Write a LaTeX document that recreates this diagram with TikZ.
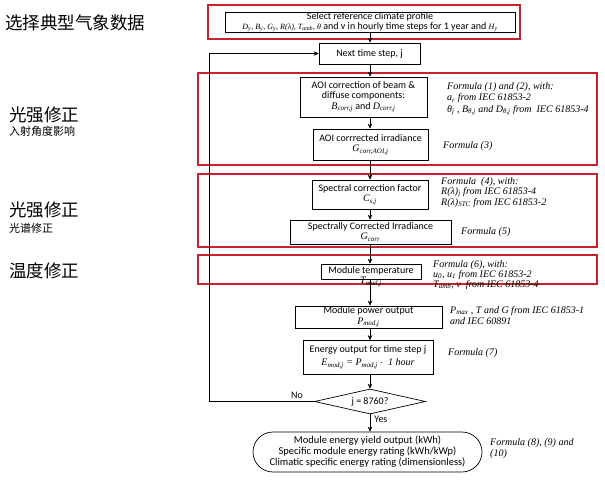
\documentclass[tikz,border=0pt]{standalone}
\usepackage{fontspec}
\setsansfont{Carlito}
\newfontfamily\tms{Liberation Serif}
\newfontfamily\cjk{Noto Sans CJK SC}
\usetikzlibrary{shapes.geometric,arrows.meta,calc}
\newcommand{\ti}[1]{{\tms\itshape #1}}
\newcommand{\tis}[1]{{\fontsize{8}{9}\selectfont\tms\itshape #1}}
\newcommand{\sbs}[1]{\textsubscript{#1}}
\definecolor{redc}{RGB}{200,32,44}
\begin{document}
\begin{tikzpicture}[x=1pt,y=-1pt,
  box/.style={draw, line width=0.7pt, fill=white, align=center, inner sep=0pt,
    font=\fontsize{10}{10.5}\selectfont\sffamily},
  redbox/.style={draw=redc, line width=1.7pt},
  arr/.style={-{Stealth[length=5pt,width=4.5pt]}, line width=0.7pt},
  note/.style={anchor=north west, align=left, inner sep=0pt,
    font=\fontsize{10}{11.5}\selectfont\tms\itshape},
  lbl/.style={inner sep=1pt, font=\fontsize{10}{10}\selectfont\sffamily},
  cn/.style={anchor=west, inner sep=0pt, font=\fontsize{17.5}{17.5}\selectfont\cjk},
  cns/.style={anchor=west, inner sep=0pt, font=\fontsize{11}{11}\selectfont\cjk}]
\useasboundingbox (0,0) rectangle (605,481);

% red frames
\draw[redbox] (208,5) rectangle (520,39);
\draw[redbox] (198,73) rectangle (597,165);
\draw[redbox] (198,174) rectangle (597,247);
\draw[redbox] (198,255) rectangle (597,284);

% spine coordinates
\coordinate (sp) at (370,0);
\coordinate (lp) at (209,0);

% boxes
\node[box, minimum width=290pt, minimum height=20pt, font=\fontsize{10}{10}\selectfont\sffamily] (sel) at (370,22)
  {Select reference climate profile\\
   \tis{D\sbs{y}, B\sbs{y}, G\sbs{y}, R(λ), T\sbs{amb}, θ} and v in hourly time steps for 1 year and \tis{H\sbs{y}}};
\node[box, minimum width=101pt, minimum height=21pt] (next) at (369.5,53.5) {Next time step, j};
\node[box, minimum width=127pt, minimum height=40pt] (aoi) at (363.5,97)
  {AOI correction of beam \&\\ diffuse components:\\ \ti{B\sbs{corr,j}} and \ti{D\sbs{corr,j}}};
\node[box, minimum width=115pt, minimum height=31pt] (aoic) at (370.5,144.5)
  {AOI corrrected irradiance\\ \ti{G\sbs{corr,AOI,j}}};
\node[box, minimum width=116pt, minimum height=29pt] (spc) at (370,194.5)
  {Spectral correction factor\\ \ti{C\sbs{s,j}}};
\node[box, minimum width=161pt, minimum height=24pt] (spi) at (370.5,232)
  {Spectrally Corrected Irradiance\\ \ti{G\sbs{corr}}};
\node[box, minimum width=100pt, minimum height=15pt] (tmp) at (371,271.5) {};
\node[align=center, inner sep=0pt, font=\fontsize{10}{10.5}\selectfont\sffamily] (tmpt) at (371,276.5)
  {Module temperature\\ \ti{T\sbs{mod,j}}};
\node[box, minimum width=147pt, minimum height=22pt] (pow) at (368.5,317)
  {Module power output\\ \ti{P\sbs{mod,j}}};
\node[box, minimum width=130pt, minimum height=34pt, font=\fontsize{10}{13}\selectfont\sffamily] (ene) at (368,357.5)
  {Energy output for time step j\\ \ti{E\sbs{mod,j} = P\sbs{mod,j} $\cdot$\ \ 1 hour}};
\node[draw, diamond, line width=0.7pt, aspect=4.4, minimum width=111pt, minimum height=25pt,
  inner sep=0pt, font=\fontsize{10}{10}\selectfont\sffamily] (dia) at (370,401.5) {j = 8760?};
\node[box, minimum width=229pt, minimum height=40pt, rounded corners=20pt,
  font=\fontsize{10.5}{11}\selectfont\sffamily] (out) at (367.5,452)
  {Module energy yield output (kWh)\\ Specific module energy rating (kWh/kWp)\\ Climatic specific energy rating (dimensionless)};

% connectors
\draw[arr] (sel.south -| sp) -- (next.north -| sp);
\draw[arr] (next.south -| sp) -- (aoi.north -| sp);
\draw[arr] (aoi.south -| sp) -- (aoic.north -| sp);
\draw[arr] (aoic.south -| sp) -- (spc.north -| sp);
\draw[arr] (spc.south -| sp) -- (spi.north -| sp);
\draw[arr] (spi.south -| sp) -- (tmp.north -| sp);
\draw[arr] (tmp.south -| sp) -- (pow.north -| sp);
\draw[arr] (pow.south -| sp) -- (ene.north -| sp);
\draw[arr] (ene.south -| sp) -- (dia.north);
\draw[arr] (dia.south) -- node[lbl, anchor=west, pos=0.3, xshift=3pt] (yes) {Yes} (out.north -| sp);
\draw[arr] (dia.west) -- (dia.west -| lp) -- (next.west -| lp) -- (next.west);
\node[lbl, anchor=south] (no) at (297,400) {No};

% notes
\node[note] (n1) at (447,82) {Formula (1) and (2), with:\\
  a\sbs{r} from IEC 61853-2\\
  θ\sbs{j} , B\sbs{θ,j} and D\sbs{θ,j} from~ IEC 61853-4};
\node[note, anchor=west] (n3) at (443,146) {Formula (3)};
\node[note, font=\fontsize{10}{10}\selectfont\tms\itshape] (n4) at (441,177) {Formula~ (4), with:\\
  R(λ)\sbs{j} from IEC 61853-4\\
  R(λ)\sbs{STC} from IEC 61853-2};
\node[note, anchor=west] (n5) at (461,232) {Formula (5)};
\node[note, font=\fontsize{10}{9}\selectfont\tms\itshape] (n6) at (433,260) {Formula (6), with:\\
  u\sbs{0}, u\sbs{1} from IEC 61853-2\\
  T\sbs{amb}, v~ from IEC 61853-4};
\node[note] (n7) at (450,306) {P\sbs{max} , T and G from IEC 61853-1\\ and IEC 60891};
\node[note, anchor=west] (n8) at (448,353) {Formula (7)};
\node[note] (n9) at (490,438) {Formula (8), (9) and\\ (10)};

% Chinese labels
\node[cn] (c1) at (5,23) {选择典型气象数据};
\node[cn] (c2) at (9,115) {光强修正};
\node[cns] (c2s) at (9,131) {入射角度影响};
\node[cn] (c3) at (9,210) {光强修正};
\node[cns] (c3s) at (9,228) {光谱修正};
\node[cn] (c4) at (9,271) {温度修正};
\end{tikzpicture}
\end{document}
